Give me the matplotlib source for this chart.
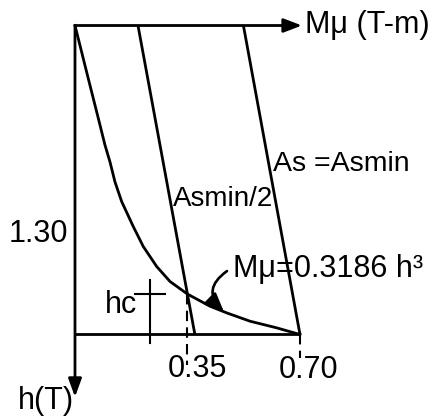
import matplotlib
matplotlib.use("Agg")
import matplotlib.pyplot as plt

plt.rcParams['font.family'] = ['Liberation Sans', 'DejaVu Sans']

# Moment curve Mu = 0.3186 h^3 as drawn (Mu in T-m, h in T)
curve_mu = [0.0, 0.0156, 0.0311, 0.0467, 0.0622, 0.0778, 0.0933, 0.1089,
            0.1244, 0.1453, 0.1814, 0.2125, 0.2542, 0.2956, 0.35, 0.42,
            0.472, 0.5444, 0.6275, 0.70]
curve_h = [0.0, 0.084, 0.168, 0.252, 0.335, 0.419, 0.503, 0.574, 0.658,
           0.741, 0.846, 0.930, 1.014, 1.077, 1.13, 1.181, 1.209, 1.244,
           1.272, 1.30]

# Steel lines: As = Asmin/2 and As = Asmin
half_mu = [0.196, 0.373]
half_h = [0.0, 1.30]
full_mu = [0.524, 0.70]
full_h = [0.0, 1.30]

h_max = 1.30          # depth where the curve meets Mu = 0.70
mu_max = 0.70
mu_half = 0.35
h_c = 1.13            # intersection depth hc

fig = plt.figure(figsize=(4.32, 4.18), dpi=100)
ax = fig.add_axes([0, 0, 1, 1])
ax.set_xlim(-0.2333, 1.1107)
ax.set_ylim(1.6513, -0.1073)
ax.axis('off')

lw = 2.0
k = dict(color='black', lw=lw, solid_capstyle='butt')

# axes with arrowheads
ax.annotate('', xy=(0.706, 0.0), xytext=(0.0, 0.0),
            arrowprops=dict(arrowstyle='-|>,head_length=1.1,head_width=0.42',
                            mutation_scale=10, lw=lw, color='black',
                            shrinkA=0, shrinkB=0))
ax.annotate('', xy=(0.0, 1.563), xytext=(0.0, 0.0),
            arrowprops=dict(arrowstyle='-|>,head_length=1.1,head_width=0.4',
                            mutation_scale=10, lw=lw, color='black',
                            shrinkA=0, shrinkB=0))

# base line at h = 1.30
ax.plot([0.0, mu_max], [h_max, h_max], **k)

# curve and steel lines
ax.plot(curve_mu, curve_h, color='black', lw=lw)
ax.plot(half_mu, half_h, **k)
ax.plot(full_mu, full_h, **k)

# dashed projections to the Mu axis
ax.plot([mu_half, mu_half], [h_c, 1.43], color='black', lw=1.5,
        dashes=(5, 3))
ax.plot([mu_max, mu_max], [h_max, 1.40], color='black', lw=1.5,
        dashes=(5, 3))

# hc marker
ax.plot([0.233, 0.233], [1.07, 1.336], color='black', lw=1.5)
ax.plot([0.187, 0.280], [h_c, h_c], color='black', lw=1.5)

# curved pointer to the curve
ax.annotate('', xy=(0.4636, 1.205), xytext=(0.4729, 1.033),
            arrowprops=dict(arrowstyle='-|>,head_length=1.15,head_width=0.5',
                            mutation_scale=10, lw=1.9, color='black',
                            shrinkA=0, shrinkB=0,
                            connectionstyle='arc3,rad=0.6'))

fs = 22
ax.text(0.7156, 0.030, 'M\u03bc (T-m)', fontsize=fs, ha='left', va='baseline')
ax.text(-0.0218, 0.911, f'{h_max:.2f}', fontsize=fs, ha='right', va='baseline')
ax.text(0.305, 0.759, 'Asmin/2', fontsize=20, ha='left', va='baseline')
ax.text(0.616, 0.612, 'As =Asmin', fontsize=20.5, ha='left', va='baseline')
ax.text(0.4916, 1.058, 'M\u03bc=0.3186 h\u00b3', fontsize=fs, ha='left',
        va='baseline')
ax.text(0.0933, 1.21, 'hc', fontsize=fs, ha='left', va='baseline')
ax.text(0.289, 1.479, f'{mu_half:.2f}', fontsize=fs, ha='left', va='baseline')
ax.text(0.635, 1.485, f'{mu_max:.2f}', fontsize=fs, ha='left', va='baseline')
ax.text(-0.177, 1.613, 'h(T)', fontsize=fs, ha='left', va='baseline')

fig.savefig('out.png', dpi=100, facecolor='white')
